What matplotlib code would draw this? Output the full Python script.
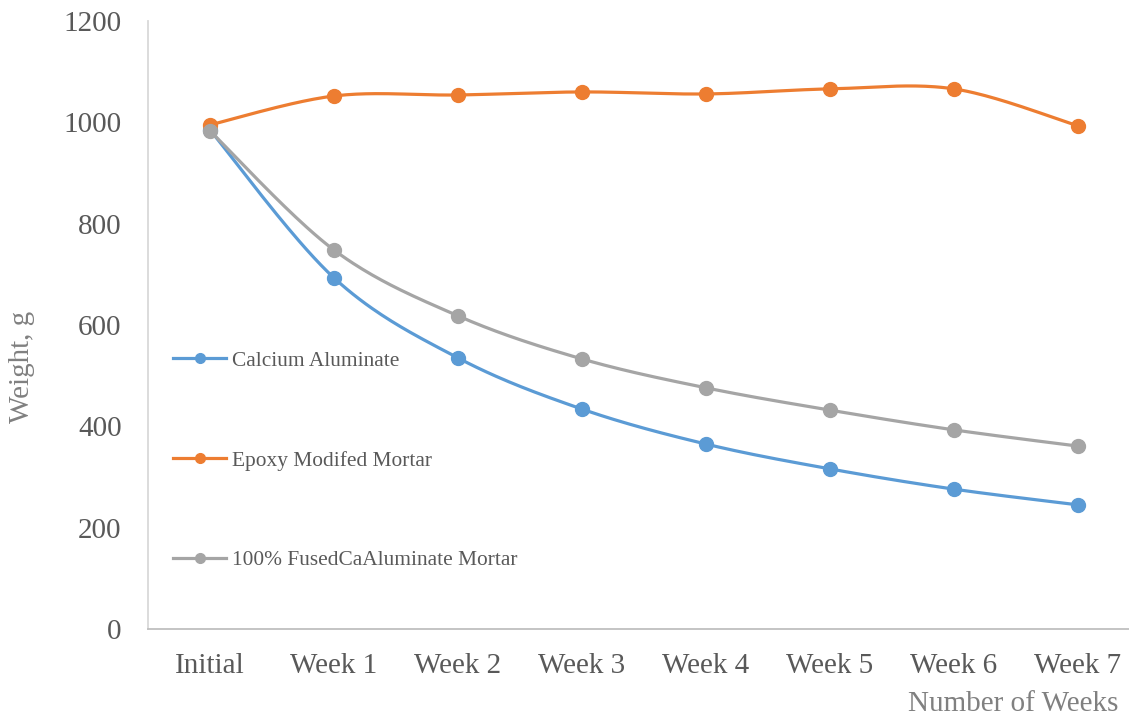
import numpy as np
import matplotlib
matplotlib.use("Agg")
import matplotlib.pyplot as plt

categories = ["Initial", "Week 1", "Week 2", "Week 3", "Week 4", "Week 5", "Week 6", "Week 7"]
calcium = [985, 693, 535, 434, 365, 316, 276, 245]
epoxy = [995, 1052, 1054, 1060, 1056, 1066, 1066, 993]
fused = [983, 748, 618, 533, 476, 432, 393, 361]

series = [
    ("Calcium Aluminate", calcium, "#5B9BD5"),
    ("Epoxy Modifed Mortar", epoxy, "#ED7D31"),
    ("100% FusedCaAluminate Mortar", fused, "#A5A5A5"),
]

plt.rcParams["font.family"] = ["Liberation Serif", "DejaVu Serif"]


def smooth(xs, ys, n=40):
    xs = np.asarray(xs, float)
    ys = np.asarray(ys, float)
    P = np.column_stack([xs, ys])
    out = []
    for i in range(len(P) - 1):
        p0 = P[i - 1] if i > 0 else P[i]
        p1 = P[i]
        p2 = P[i + 1]
        p3 = P[i + 2] if i + 2 < len(P) else P[i + 1]
        c1 = p1 + (p2 - p0) / 6.0
        c2 = p2 - (p3 - p1) / 6.0
        t = np.linspace(0, 1, n)[:, None]
        seg = ((1 - t) ** 3) * p1 + 3 * ((1 - t) ** 2) * t * c1 + 3 * (1 - t) * t ** 2 * c2 + t ** 3 * p2
        out.append(seg if i == 0 else seg[1:])
    out = np.vstack(out)
    return out[:, 0], out[:, 1]


W, H = 1129, 719
fig = plt.figure(figsize=(W / 100, H / 100), dpi=100)
ax = fig.add_axes([148 / W, (H - 629) / H, (1129 - 148) / W, 608 / H])

x = np.arange(len(categories))
handles = []
for name, vals, col in series:
    sx, sy = smooth(x, vals)
    ax.plot(sx, sy, color=col, lw=2.3, solid_capstyle="round", zorder=2)
    ax.plot(x, vals, "o", color=col, ms=10, zorder=3)
    h, = ax.plot([], [], "-o", color=col, lw=2.3, ms=7, label=name)
    handles.append(h)

ax.set_ylim(0, 1200)
ax.set_xlim(-0.5, (1129 - 148) / 124 - 0.5)
ax.set_yticks(range(0, 1201, 200))
ax.set_xticks(x)
ax.set_xticklabels(categories)
ax.tick_params(axis="both", length=0, labelsize=21, labelcolor="#595959")
ax.tick_params(axis="y", pad=19)
ax.tick_params(axis="x", pad=17)

for s in ["top", "right"]:
    ax.spines[s].set_visible(False)
ax.spines["left"].set_color("#D9D9D9")
ax.spines["left"].set_linewidth(1.3)
ax.spines["bottom"].set_color("#BFBFBF")
ax.spines["bottom"].set_linewidth(1.3)

fig.text(22 / W, 1 - 367 / H, "Weight, g", rotation=90, ha="center", va="center",
         fontsize=21, color="#808080")
fig.text(1118 / W, 1 - 704 / H, "Number of Weeks", ha="right", va="center",
         fontsize=21, color="#808080")

leg = ax.legend(handles=handles, loc="upper left", bbox_to_anchor=(173 / W, 1 - 351 / H),
                bbox_transform=fig.transFigure, frameon=False, fontsize=15.4,
                handlelength=2.5, handletextpad=0.25, labelspacing=3.72,
                borderaxespad=0, borderpad=0)
for t in leg.get_texts():
    t.set_color("#595959")

fig.savefig("out.png", dpi=100)
